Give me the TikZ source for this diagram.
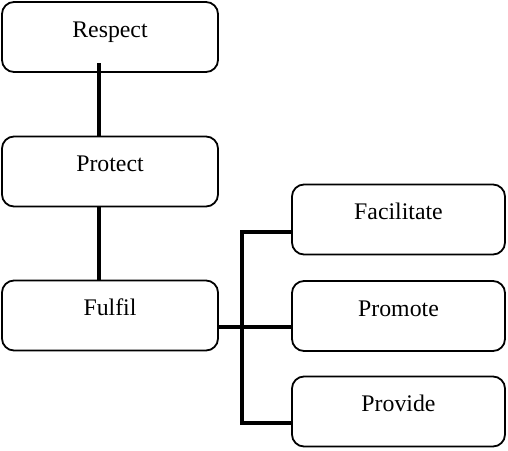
\documentclass[tikz,border=0pt]{standalone}
\usepackage{fontspec}
\setmainfont{Liberation Serif}
\begin{document}
\begin{tikzpicture}[x=1pt,y=-1pt,
  box/.style={draw, rounded corners=12pt, line width=1.8pt, inner sep=0pt,
    minimum height=70pt, text height=12pt, text depth=12pt,
    font=\fontsize{23.8}{28}\selectfont},
  lbox/.style={box, minimum width=216pt},
  rbox/.style={box, minimum width=213pt},
  conn/.style={line width=3.6pt}]
\useasboundingbox (0,0) rectangle (508,450);
\node[lbox] (respect) at (110,37) {Respect};
\node[lbox] (protect) at (110,171.5) {Protect};
\node[lbox] (fulfil) at (110,315.5) {Fulfil};
\node[rbox] (facilitate) at (398.5,219.5) {Facilitate};
\node[rbox] (promote) at (398.5,316) {Promote};
\node[rbox] (provide) at (398.5,411.5) {Provide};
\coordinate (c1) at (99,63);
\coordinate (bx) at (242,327);
\draw[conn] (c1) -- (c1 |- protect.north);
\draw[conn] (c1 |- protect.south) -- (c1 |- fulfil.north);
\draw[conn] ([yshift=-12.5pt]facilitate.west) -| (bx) |- ([yshift=-11.5pt]provide.west);
\draw[conn] (fulfil.east |- bx) -- (promote.west |- bx);
\end{tikzpicture}
\end{document}
